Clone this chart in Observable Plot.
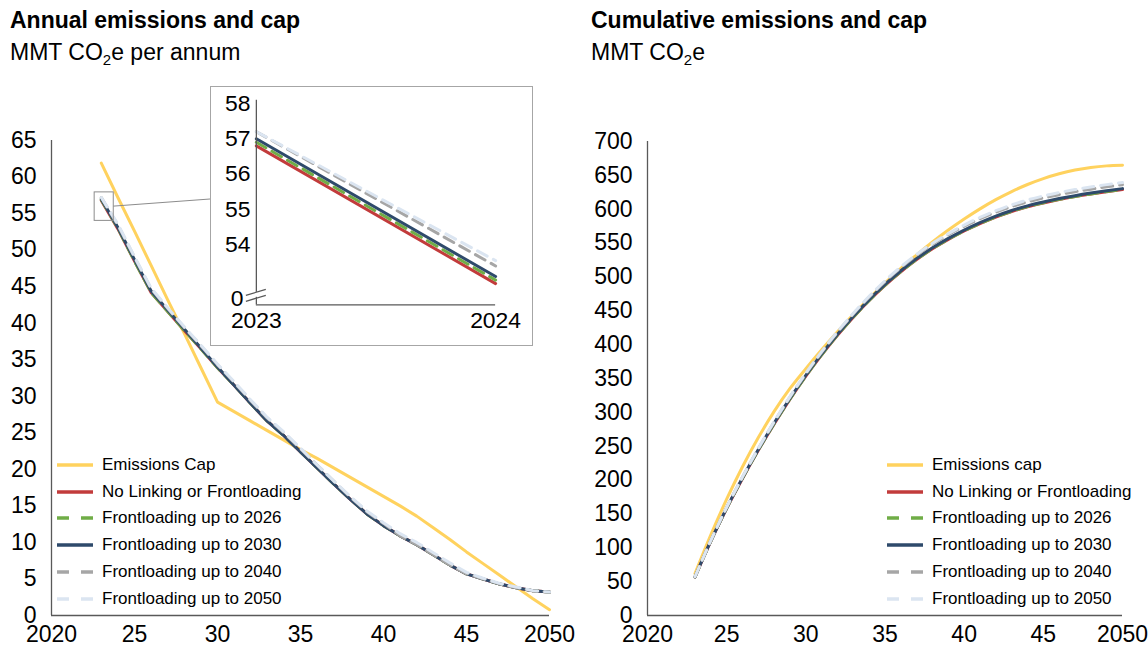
<!DOCTYPE html>
<html><head><meta charset="utf-8">
<script src="https://cdn.jsdelivr.net/npm/d3@7"></script>
<script src="https://cdn.jsdelivr.net/npm/@observablehq/plot@0.6"></script>
<style>
body{margin:0;background:#fff;font-family:"Liberation Sans",Arial,sans-serif;color:#000;}
#root{position:relative;width:1148px;height:647px;overflow:hidden;background:#fff;}
.t{position:absolute;font-size:23px;line-height:23px;white-space:nowrap;}
.t.b{font-weight:bold;}
.s2{font-size:15px;position:relative;top:5px;}
.abs{position:absolute;}
.row{position:absolute;display:flex;align-items:center;height:20px;font-size:17px;white-space:nowrap;}
.row svg{margin-right:9px;}
#insetBox{position:absolute;left:210px;top:86px;width:323px;height:260px;box-sizing:border-box;border:1px solid #a6a6a6;background:#fff;overflow:hidden;}
#insetBox .abs{left:-1px;top:-1px;}
</style></head>
<body><div id="root">
<div class="t b" style="left:10px;top:9px">Annual emissions and cap</div>
<div class="t" style="left:10px;top:41px">MMT CO<span class="s2">2</span>e per annum</div>
<div class="t b" style="left:591px;top:9px">Cumulative emissions and cap</div>
<div class="t" style="left:591px;top:41px">MMT CO<span class="s2">2</span>e</div>
<div id="left" class="abs" style="left:0;top:120px"></div>
<div id="right" class="abs" style="left:580px;top:120px"></div>
<div id="insetBox"><div id="inset" class="abs"></div></div>
<div id="legL"></div><div id="legR"></div>
</div>
<script>
// ---------- data ----------
const years = [2023,2024,2025,2026,2027,2028,2029,2030,2031,2032,2033,2034,2035,2036,2037,2038,2039,2040,2041,2042,2043,2044,2045,2046,2047,2048,2049,2050];

const capAnnual   = [61.9,57.2,52.6,47.9,43.2,38.6,33.9,29.2,27.9,26.6,25.3,24.0,22.7,21.5,20.2,18.9,17.6,16.3,15.0,13.6,12.0,10.4,8.7,7.1,5.5,3.9,2.3,0.8];
const noLinkAnnual= [56.8,52.9,48.5,44.2,41.6,39.0,36.5,33.9,31.5,29.0,26.6,24.6,22.4,20.2,18.0,15.9,13.9,12.3,10.9,9.7,8.3,6.9,5.7,5.0,4.3,3.8,3.4,3.2];
const fl2026Annual= [56.9,53.0,48.5,44.2,41.6,39.0,36.5,33.9,31.5,29.0,26.6,24.6,22.4,20.2,18.0,15.9,13.9,12.3,10.9,9.7,8.3,6.9,5.7,5.0,4.3,3.8,3.4,3.2];
const fl2030Annual= [57.0,53.1,48.7,44.4,41.8,39.2,36.6,34.0,31.5,29.0,26.6,24.6,22.4,20.2,18.0,15.9,13.9,12.3,10.9,9.7,8.3,6.9,5.7,5.0,4.3,3.8,3.4,3.2];
const fl2040Annual= [57.2,53.4,49.0,44.7,42.0,39.4,36.9,34.3,31.9,29.4,27.0,25.0,22.8,20.6,18.4,16.2,14.2,12.6,10.9,9.7,8.3,6.9,5.7,5.0,4.3,3.8,3.4,3.2];
const fl2050Annual= [57.2,53.55,49.1,44.8,42.1,39.5,37.0,34.4,32.0,29.5,27.1,25.1,22.9,20.6,18.4,16.3,14.3,12.7,11.2,10.0,8.6,7.2,5.9,5.1,4.4,3.9,3.4,3.2];

const capCum   = [61.9,119.1,171.7,219.6,262.8,301.4,335.3,364.5,392.4,419.0,444.3,468.3,491.0,512.5,532.7,551.6,569.2,585.5,600.5,614.1,626.1,636.5,645.2,652.3,657.8,661.7,664.0,664.8];
const noLinkCum= [56.8,109.7,158.2,202.4,244.0,283.0,319.5,353.4,384.9,413.9,440.5,465.1,487.5,507.7,525.7,541.6,555.5,567.8,578.7,588.4,596.7,603.6,609.3,614.3,618.6,622.4,625.8,629.0];
const fl2026Cum= [56.9,109.9,158.4,202.6,244.2,283.2,319.7,353.6,385.1,414.1,440.7,465.3,487.7,507.9,525.9,541.8,555.7,568.0,578.9,588.6,596.9,603.8,609.5,614.5,618.8,622.6,626.0,629.2];
const fl2030Cum= [57.0,110.1,158.8,203.2,245.0,284.2,320.8,354.8,386.3,415.3,441.9,466.5,488.9,509.1,527.1,543.0,556.9,569.2,580.1,589.8,598.1,605.0,610.7,615.7,620.0,623.8,627.2,630.4];
const fl2040Cum= [57.2,110.6,159.6,204.3,246.3,285.7,322.6,356.9,388.8,418.2,445.2,470.2,493.0,513.6,532.0,548.2,562.4,575.0,585.9,595.6,603.9,610.8,616.5,621.5,625.8,629.6,633.0,636.2];
const fl2050Cum= [57.2,110.8,159.9,204.7,246.8,286.3,323.3,357.7,389.7,419.2,446.3,471.4,494.3,514.9,533.3,549.6,563.9,576.6,587.8,597.8,606.4,613.6,619.5,624.6,629.0,632.9,636.3,639.5];

const namesLeft  = ["Emissions Cap","No Linking or Frontloading","Frontloading up to 2026","Frontloading up to 2030","Frontloading up to 2040","Frontloading up to 2050"];
const namesRight = ["Emissions cap","No Linking or Frontloading","Frontloading up to 2026","Frontloading up to 2030","Frontloading up to 2040","Frontloading up to 2050"];

const xTicks = [2020,2025,2030,2035,2040,2045,2050];
const xTickLabels = ["2020","25","30","35","40","45","2050"];
const annualTicks = [0,5,10,15,20,25,30,35,40,45,50,55,60,65];
const cumTicks = [0,50,100,150,200,250,300,350,400,450,500,550,600,650,700];
const insetXTicks = [2023,2024];
const insetYTicks = [54,55,56,57,58];
const insetZeroLabel = ["0"];
const zoomWindow = [{x1:2022.6, x2:2023.75, y1:54.0, y2:57.9}];

// ---------- styles ----------
const colors = ["#FFD25E","#C23B3B","#70AD47","#2E4A6B","#A6A6A6","#DBE5F1"];
const dashes = [null,null,"11 7",null,"11 7","11 7"];
const legendDashes = [null,null,"12 12",null,"12 12","12 12"];
const font = '"Liberation Sans", Arial, sans-serif';
const axisColor = "#595959";

const annualSets = [capAnnual,noLinkAnnual,fl2026Annual,fl2030Annual,fl2040Annual,fl2050Annual];
const cumSets = [capCum,noLinkCum,fl2026Cum,fl2030Cum,fl2040Cum,fl2050Cum];
const toRows = vals => years.map((yr,i)=>({year:yr, value:vals[i]}));
const labelOf = new Map(xTicks.map((t,i)=>[t,xTickLabels[i]]));

const svgNS = "http://www.w3.org/2000/svg";
function svgLine(x1,y1,x2,y2,stroke,w){
  const l=document.createElementNS(svgNS,"line");
  l.setAttribute("x1",x1);l.setAttribute("y1",y1);l.setAttribute("x2",x2);l.setAttribute("y2",y2);
  l.setAttribute("stroke",stroke);l.setAttribute("stroke-width",w);
  return l;
}

// ---------- left: annual ----------
const leftLeft=0, leftTop=120, insetLeft=210, insetTop=86;
const connector = (index, scales) => {
  const w = zoomWindow[0];
  const x0 = scales.x(w.x2), y0 = scales.y((w.y1+w.y2)/2);
  const g=document.createElementNS(svgNS,"g");
  g.appendChild(svgLine(x0,y0,insetLeft-leftLeft,(insetTop+113)-leftTop,"#8c8c8c",1));
  return g;
};
const left = Plot.plot({
  width:570, height:527, marginLeft:51, marginRight:21, marginTop:20, marginBottom:32,
  style:{fontFamily:font, fontSize:"23px", color:"#000", background:"#fff", overflow:"visible"},
  x:{domain:[2020,2050], ticks:xTicks, tickFormat:d=>labelOf.get(d), tickSize:0, tickPadding:10, label:null},
  y:{domain:[0,65], ticks:annualTicks, tickSize:0, tickPadding:15, label:null},
  marks:[
    ...annualSets.map((vals,i)=>Plot.line(toRows(vals),{x:"year",y:"value",stroke:colors[i],strokeWidth:3,strokeDasharray:dashes[i]})),
    Plot.ruleX([2020],{y1:0,y2:65,stroke:axisColor,strokeWidth:1.3}),
    Plot.ruleY([0],{x1:2020,x2:2050,stroke:axisColor,strokeWidth:1.3}),
    Plot.rect(zoomWindow,{x1:"x1",x2:"x2",y1:"y1",y2:"y2",fill:"none",stroke:"#8c8c8c",strokeWidth:1}),
    connector
  ]
});
document.getElementById("left").appendChild(left);

// ---------- inset ----------
const insetYDomain=[52.3,58];
const breakMarks = (index, scales) => {
  const g=document.createElementNS(svgNS,"g");
  const x0=scales.x(2023), yb=scales.y(insetYDomain[0]);
  g.appendChild(svgLine(x0-3,yb-10,x0+3,yb-10,"#fff",5));
  g.appendChild(svgLine(x0-10,yb-9,x0+10,yb-15,axisColor,1.3));
  g.appendChild(svgLine(x0-10,yb-3,x0+10,yb-9,axisColor,1.3));
  return g;
};
const inset = Plot.plot({
  width:323, height:260, marginLeft:46, marginRight:37, marginTop:17, marginBottom:41,
  style:{fontFamily:font, fontSize:"23px", color:"#000", background:"#fff", overflow:"visible"},
  x:{domain:[2023,2024], ticks:insetXTicks, tickFormat:d=>String(d), tickSize:0, tickPadding:7, label:null},
  y:{domain:insetYDomain, ticks:insetYTicks, tickFormat:d=>String(d), tickSize:0, tickPadding:6, label:null},
  marks:[
    ...annualSets.slice(1).map((vals,k)=>Plot.line(toRows(vals).slice(0,2),{x:"year",y:"value",stroke:colors[k+1],strokeWidth:3,strokeDasharray:dashes[k+1]})),
    Plot.ruleX([2023],{y1:insetYDomain[0],y2:58.09,stroke:axisColor,strokeWidth:1.3}),
    Plot.ruleY([insetYDomain[0]],{x1:2023,x2:2024,stroke:axisColor,strokeWidth:1.3}),
    breakMarks,
    Plot.text(insetZeroLabel,{x:()=>2023,y:()=>insetYDomain[0],text:d=>d,textAnchor:"end",dx:-13,dy:-6,fontSize:23})
  ]
});
document.getElementById("inset").appendChild(inset);

// ---------- right: cumulative ----------
const right = Plot.plot({
  width:568, height:527, marginLeft:67, marginRight:26, marginTop:21, marginBottom:32,
  style:{fontFamily:font, fontSize:"23px", color:"#000", background:"#fff", overflow:"visible"},
  x:{domain:[2020,2050], ticks:xTicks, tickFormat:d=>labelOf.get(d), tickSize:0, tickPadding:10, label:null},
  y:{domain:[0,700], ticks:cumTicks, tickSize:0, tickPadding:15, label:null},
  marks:[
    ...cumSets.map((vals,i)=>Plot.line(toRows(vals),{x:"year",y:"value",stroke:colors[i],strokeWidth:3,strokeDasharray:dashes[i],curve:"monotone-x"})),
    Plot.ruleX([2020],{y1:0,y2:700,stroke:axisColor,strokeWidth:1.3}),
    Plot.ruleY([0],{x1:2020,x2:2050,stroke:axisColor,strokeWidth:1.3})
  ]
});
document.getElementById("right").appendChild(right);

// ---------- legends ----------
function legend(containerId, names, lineLeft, top, step){
  const c=document.getElementById(containerId);
  names.forEach((n,i)=>{
    const row=document.createElement("div");
    row.className="row";
    row.style.left=lineLeft+"px";
    row.style.top=(top+step*i-10)+"px";
    const s=document.createElementNS(svgNS,"svg");
    s.setAttribute("width",36);s.setAttribute("height",8);
    const l=svgLine(0,4,36,4,colors[i],3.5);
    if(legendDashes[i]) l.setAttribute("stroke-dasharray",legendDashes[i]);
    s.appendChild(l);
    row.appendChild(s);
    const sp=document.createElement("span");sp.textContent=n;row.appendChild(sp);
    c.appendChild(row);
  });
}
legend("legL", namesLeft, 57, 465, 26.7);
legend("legR", namesRight, 887, 465, 26.7);
</script>
</body></html>
